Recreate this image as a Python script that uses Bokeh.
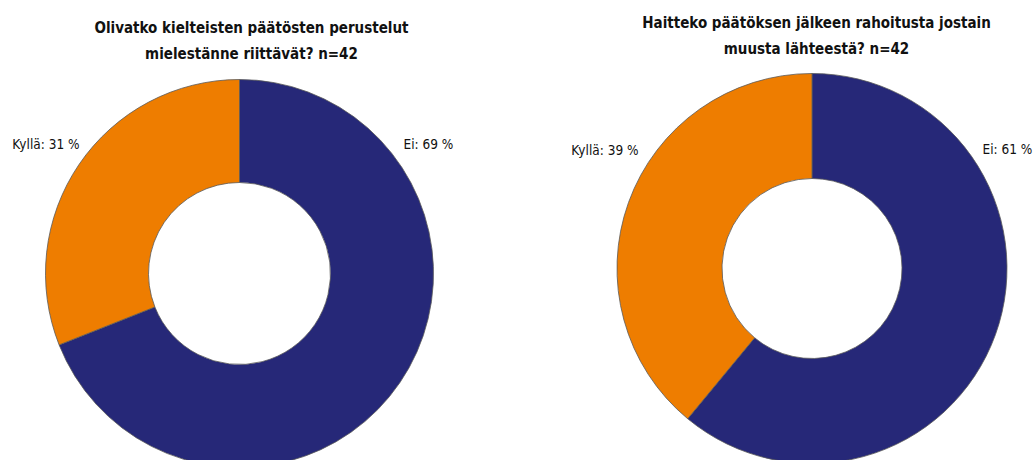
import math
from bokeh.plotting import figure
from bokeh.models import Range1d, ColumnDataSource
from bokeh.core.properties import value
from bokeh.embed import file_html
from bokeh.resources import INLINE

categories = ["Ei", "Kyllä"]
left_values = [69, 31]
right_values = [61, 39]
left_title = ["Olivatko kielteisten päätösten perustelut", "mielestänne riittävät? n=42"]
right_title = ["Haitteko päätöksen jälkeen rahoitusta jostain", "muusta lähteestä? n=42"]
colors = ["#262878", "#EE7D00"]

W, H = 1035, 460
FONT = "DejaVu Sans Condensed, Roboto, sans-serif"

p = figure(width=W, height=H, output_backend="svg", toolbar_location=None,
           x_range=Range1d(0, W), y_range=Range1d(0, H),
           min_border=0, outline_line_color=None)
p.axis.visible = False
p.grid.visible = False
p.background_fill_color = "white"
p.border_fill_color = "white"


def py(y):
    return H - y


def donut(values, cx, cy, r_out, r_in, title, title_x, title_y, lbl):
    total = float(sum(values))
    starts, ends = [], []
    a = math.pi / 2
    for v in values:
        starts.append(a)
        a = a - 2 * math.pi * v / total
        ends.append(a)
    src = ColumnDataSource(dict(start=starts, end=ends, color=colors,
                                x=[cx] * len(values), y=[py(cy)] * len(values)))
    p.annular_wedge(x="x", y="y", inner_radius=r_in, outer_radius=r_out,
                    start_angle="start", end_angle="end", direction="clock",
                    fill_color="color", line_color="#5a5a5a", line_width=0.8,
                    source=src)
    for i, line in enumerate(title):
        p.text(x=[title_x], y=[py(title_y + i * 26)], text=[line],
               text_font=value(FONT), text_font_style="bold", text_font_size="15px",
               text_align="center", text_baseline="middle", text_color="#111111")
    (ex, ey), (kx, ky) = lbl
    p.text(x=[ex], y=[py(ey)], text=[f"{categories[0]}: {values[0]} %"],
           text_font=value(FONT), text_font_size="13.5px", text_align="left",
           text_baseline="middle", text_color="#111111")
    p.text(x=[kx], y=[py(ky)], text=[f"{categories[1]}: {values[1]} %"],
           text_font=value(FONT), text_font_size="13.5px", text_align="right",
           text_baseline="middle", text_color="#111111")


donut(left_values, 239, 273, 194, 91, left_title, 251, 27,
      ((403, 143), (79, 143)))
donut(right_values, 811.5, 268, 195, 90, right_title, 816, 22,
      ((982, 148), (638, 149)))

open("out.html", "w").write(file_html(p, INLINE))
